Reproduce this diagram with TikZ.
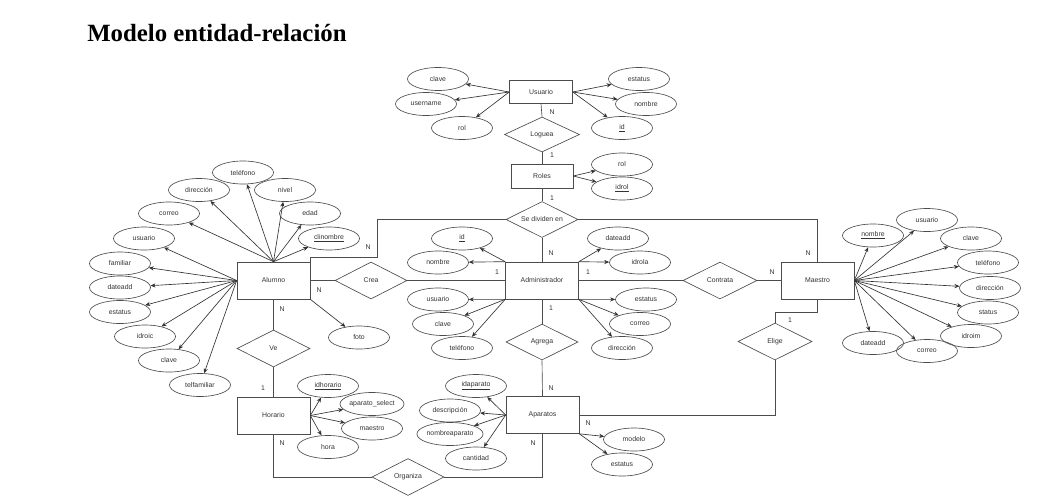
\documentclass[tikz,border=0pt]{standalone}
\usepackage{fontspec}
\setmainfont{Liberation Serif}
\newfontfamily\diagfont{Liberation Sans}
\usepackage{tikz}
\usetikzlibrary{shapes, arrows.meta, positioning, calc}

\tikzset{
    entidad/.style={draw=black!70, rectangle, minimum width=73pt, minimum height=37pt, inner sep=0pt},
    relacion/.style={draw=black!70, diamond, aspect=2, minimum width=72pt, minimum height=36pt, inner sep=0pt},
    atributo/.style={draw=black!70, ellipse, minimum width=61pt, minimum height=23pt, inner sep=0pt},
    flecha/.style={draw=black!80, -{Stealth[length=5pt,width=4.2pt]}},
    linea/.style={draw=black!70},
    card/.style={inner sep=0pt}
}

\begin{document}
\begin{tikzpicture}[x=1pt, y=-1pt, line width=0.65pt, font=\diagfont\fontsize{6.9}{8}\selectfont, text=black!80]
    \useasboundingbox (0,0) rectangle (1038,499);

    % titulo
    \node[anchor=base west, inner sep=0pt, text=black, font=\rmfamily\bfseries\fontsize{24.8}{28}\selectfont] (titulo) at (87,41) {Modelo entidad-relación};

    % entidades
    \node[entidad, minimum width=63pt, minimum height=23pt] (usuario) at (541,92) {Usuario};
    \node[entidad, minimum width=62pt, minimum height=24pt] (roles) at (542,176) {Roles};
    \node[entidad] (alumno) at (273.5,280.5) {Alumno};
    \node[entidad] (admin) at (542,280.5) {Administrador};
    \node[entidad] (maestro) at (817.5,280.5) {Maestro};
    \node[entidad] (horario) at (273.5,415.5) {Horario};
    \node[entidad] (aparatos) at (542.5,415) {Aparatos};

    % relaciones
    \node[relacion, minimum width=75pt, minimum height=35pt] (loguea) at (542,134.5) {Loguea};
    \node[relacion] (sedividen) at (542,219.5) {Se dividen en};
    \node[relacion, minimum height=37pt] (crea) at (371,280.5) {Crea};
    \node[relacion, minimum width=74pt, minimum height=37pt] (contrata) at (720,280.5) {Contrata};
    \node[relacion, minimum width=74pt, minimum height=37pt] (elige) at (775,341.5) {Elige};
    \node[relacion] (agrega) at (542,342) {Agrega};
    \node[relacion, minimum width=73pt, minimum height=37pt] (ve) at (273.5,348.5) {Ve};
    \node[relacion, minimum height=37pt] (organiza) at (408,477) {Organiza};

    % atributos de Usuario
    \node[atributo] (uClave) at (438,79) {clave};
    \node[atributo] (uUsername) at (426,104) {username};
    \node[atributo] (uRol) at (462,128) {rol};
    \node[atributo] (uEstatus) at (639,79) {estatus};
    \node[atributo] (uNombre) at (646,104) {nombre};
    \node[atributo] (uId) at (622,128) {\underline{id}};

    % atributos de Roles
    \node[atributo] (rRol) at (622,164.5) {rol};
    \node[atributo] (rIdrol) at (622,188.5) {\underline{idrol}};

    % atributos de Alumno
    \node[atributo] (alTelefono) at (243,172.5) {teléfono};
    \node[atributo] (alDireccion) at (199,190) {dirección};
    \node[atributo] (alNivel) at (285,190) {nivel};
    \node[atributo] (alCorreo) at (169,213.5) {correo};
    \node[atributo] (alEdad) at (310,213.5) {edad};
    \node[atributo] (alUsuario) at (144,238.5) {usuario};
    \node[atributo] (alClinombre) at (329,238.5) {\underline{clinombre}};
    \node[atributo] (alFamiliar) at (120,263.5) {familiar};
    \node[atributo] (alDateadd) at (120,287.5) {dateadd};
    \node[atributo] (alEstatus) at (120,312) {estatus};
    \node[atributo] (alIdroic) at (145,336.5) {idroic};
    \node[atributo] (alClave) at (169,360.5) {clave};
    \node[atributo] (alTelfamiliar) at (200,385) {telfamiliar};
    \node[atributo] (alFoto) at (359,337.5) {foto};

    % atributos de Administrador
    \node[atributo] (aId) at (462,238.5) {\underline{id}};
    \node[atributo] (aNombre) at (438,262.5) {nombre};
    \node[atributo] (aUsuario) at (438,299.5) {usuario};
    \node[atributo] (aClave) at (443,324) {clave};
    \node[atributo] (aTelefono) at (462,348) {teléfono};
    \node[atributo] (aDateadd) at (618,238.5) {dateadd};
    \node[atributo] (aIdrola) at (640,262.5) {idrola};
    \node[atributo] (aEstatus) at (646,299.5) {estatus};
    \node[atributo] (aCorreo) at (640,324) {correo};
    \node[atributo] (aDireccion) at (622,348) {dirección};

    % atributos de Maestro
    \node[atributo] (mNombre) at (873,235.5) {\underline{nombre}};
    \node[atributo] (mUsuario) at (927,220) {usuario};
    \node[atributo] (mClave) at (971,238.5) {clave};
    \node[atributo] (mTelefono) at (988,262.5) {teléfono};
    \node[atributo] (mDireccion) at (990,288) {dirección};
    \node[atributo] (mStatus) at (988,312.5) {status};
    \node[atributo] (mIdroim) at (971,336) {idroim};
    \node[atributo] (mCorreo) at (927,351) {correo};
    \node[atributo] (mDateadd) at (873,343) {dateadd};

    % atributos de Horario
    \node[atributo] (hIdhorario) at (328,386) {\underline{idhorario}};
    \node[atributo] (hAparato) at (372,404) {aparato\_select};
    \node[atributo] (hMaestro) at (372,428.5) {maestro};
    \node[atributo] (hHora) at (328,447) {hora};

    % atributos de Aparatos
    \node[atributo] (apId) at (476,386) {\underline{idaparato}};
    \node[atributo] (apDescripcion) at (450,410.5) {descripción};
    \node[atributo] (apNombre) at (450,434) {nombreaparato};
    \node[atributo] (apCantidad) at (476,458.5) {cantidad};
    \node[atributo] (apModelo) at (634,439.5) {modelo};
    \node[atributo] (apEstatus) at (622,464.5) {estatus};

    % puntos de quiebre
    \coordinate (qAlumno) at (377,257);
    \coordinate (qMaestro) at (775,312);

    % conexiones entre entidades y relaciones
    \draw[linea] (usuario.south) -- (loguea.north);
    \draw[linea] (loguea.south) -- (roles.north);
    \draw[linea] (roles.south) -- (sedividen.north);
    \draw[linea] (sedividen.south) -- (admin.north);
    \draw[linea] (sedividen.west) -| (qAlumno) -- (qAlumno -| alumno.east) -- (alumno.north east);
    \draw[linea] (sedividen.east) -| (maestro.north);
    \draw[linea] (alumno.east) -- (crea.west);
    \draw[linea] (crea.east) -- (admin.west);
    \draw[linea] (admin.east) -- (contrata.west);
    \draw[linea] (contrata.east) -- (maestro.west);
    \draw[linea] (maestro.south) |- (qMaestro) -- (elige.north);
    \draw[linea] (elige.south) |- (aparatos.east);
    \draw[linea] (admin.south) -- (agrega.north);
    \draw[linea] (agrega.south) -- (aparatos.north);
    \draw[linea] (alumno.south) -- (ve.north);
    \draw[linea] (ve.south) -- (horario.north);
    \draw[linea] (horario.south) |- (organiza.west);
    \draw[linea] (organiza.east) -| (aparatos.south);

    % cardinalidades
    \node[card] (c1) at (552,112) {N};
    \node[card] (c2) at (552,155) {1};
    \node[card] (c3) at (552,198) {1};
    \node[card] (c4) at (551,253) {N};
    \node[card] (c5) at (368,247) {N};
    \node[card] (c6) at (808,253) {N};
    \node[card] (c7) at (497,272) {1};
    \node[card] (c8) at (319,290) {N};
    \node[card] (c9) at (588,272) {1};
    \node[card] (c10) at (772,272) {N};
    \node[card] (c11) at (790,320) {1};
    \node[card] (c12) at (588,423) {N};
    \node[card] (c13) at (551,308) {1};
    \node[card] (c14) at (551,388) {N};
    \node[card] (c15) at (282,309) {N};
    \node[card] (c16) at (263,388) {1};
    \node[card] (c17) at (282,443) {N};
    \node[card] (c18) at (533,443) {N};

    % flechas a los atributos
    \draw[flecha] (usuario.west) -- (uClave);
    \draw[flecha] (usuario.west) -- (uUsername);
    \draw[flecha] (usuario.west) -- (uRol);
    \draw[flecha] (usuario.east) -- (uEstatus);
    \draw[flecha] (usuario.east) -- (uNombre);
    \draw[flecha] (usuario.east) -- (uId);

    \draw[flecha] (roles.east) -- (rRol);
    \draw[flecha] (roles.east) -- (rIdrol);

    \draw[flecha] (alumno.north) -- (alTelefono);
    \draw[flecha] (alumno.north) -- (alDireccion);
    \draw[flecha] (alumno.north) -- (alNivel);
    \draw[flecha] (alumno.north) -- (alCorreo);
    \draw[flecha] (alumno.north) -- (alEdad);
    \draw[flecha] (alumno.north) -- (alClinombre);
    \draw[flecha] (alumno.west) -- (alUsuario);
    \draw[flecha] (alumno.west) -- (alFamiliar);
    \draw[flecha] (alumno.west) -- (alDateadd);
    \draw[flecha] (alumno.west) -- (alEstatus);
    \draw[flecha] (alumno.west) -- (alIdroic);
    \draw[flecha] (alumno.west) -- (alClave);
    \draw[flecha] (alumno.west) -- (alTelfamiliar);
    \draw[flecha] (alumno.south east) -- (alFoto);

    \draw[flecha] (admin.north west) -- (aId);
    \draw[flecha] (admin.north west) -- (aNombre);
    \draw[flecha] (admin.south west) -- (aUsuario);
    \draw[flecha] (admin.south west) -- (aClave);
    \draw[flecha] (admin.south west) -- (aTelefono);
    \draw[flecha] (admin.north east) -- (aDateadd);
    \draw[flecha] (admin.north east) -- (aIdrola);
    \draw[flecha] (admin.south east) -- (aEstatus);
    \draw[flecha] (admin.south east) -- (aCorreo);
    \draw[flecha] (admin.south east) -- (aDireccion);

    \draw[flecha] (maestro.east) -- (mNombre);
    \draw[flecha] (maestro.east) -- (mUsuario);
    \draw[flecha] (maestro.east) -- (mClave);
    \draw[flecha] (maestro.east) -- (mTelefono);
    \draw[flecha] (maestro.east) -- (mDireccion);
    \draw[flecha] (maestro.east) -- (mStatus);
    \draw[flecha] (maestro.east) -- (mIdroim);
    \draw[flecha] (maestro.east) -- (mCorreo);
    \draw[flecha] (maestro.east) -- (mDateadd);

    \draw[flecha] (horario.east) -- (hIdhorario);
    \draw[flecha] (horario.east) -- (hAparato);
    \draw[flecha] (horario.east) -- (hMaestro);
    \draw[flecha] (horario.east) -- (hHora);

    \draw[flecha] (aparatos.west) -- (apId);
    \draw[flecha] (aparatos.west) -- (apDescripcion);
    \draw[flecha] (aparatos.west) -- (apNombre);
    \draw[flecha] (aparatos.west) -- (apCantidad);
    \draw[flecha] (aparatos.south east) -- (apModelo);
    \draw[flecha] (aparatos.south east) -- (apEstatus);
\end{tikzpicture}
\end{document}
